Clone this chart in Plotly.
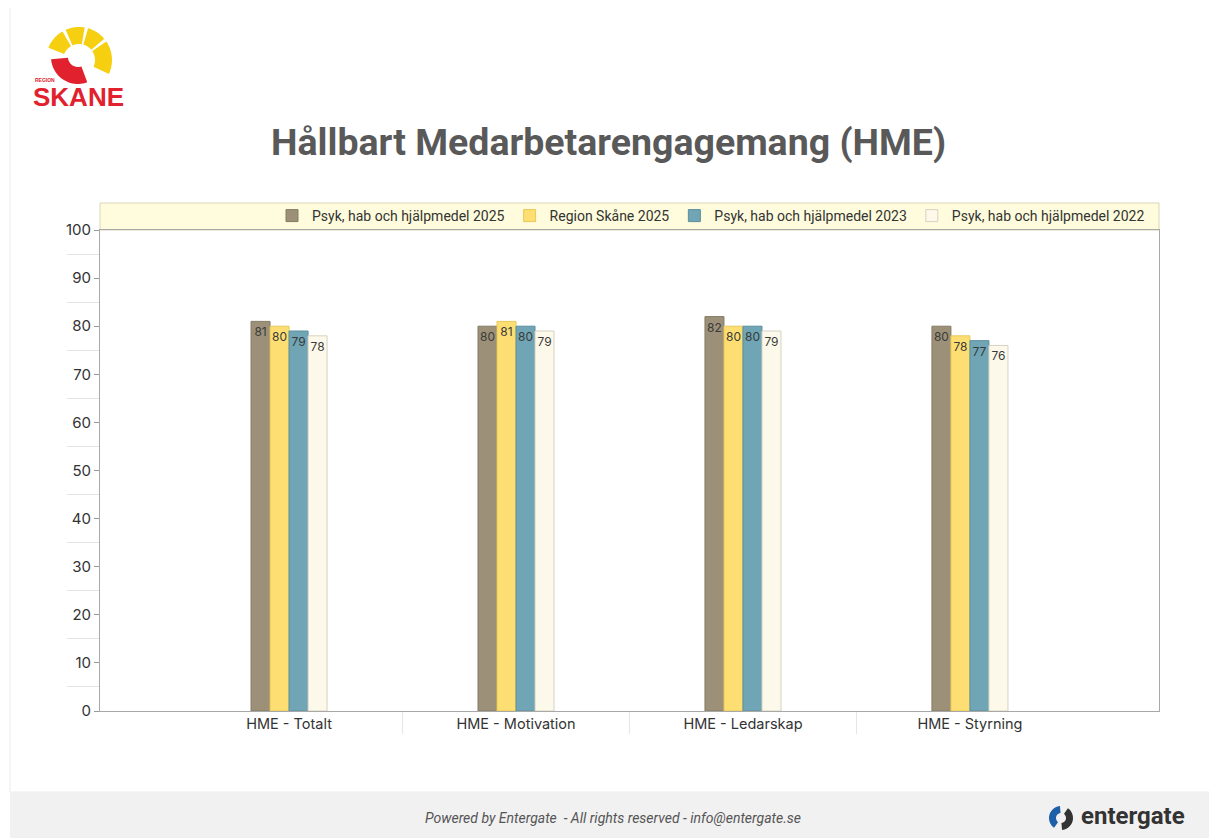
import numpy as np
import plotly.graph_objects as go

# ─── Data ─────────────────────────────────────────────────────────────────────
CATEGORIES = ['HME - Totalt', 'HME - Motivation', 'HME - Ledarskap', 'HME - Styrning']
SERIES_NAMES = [
    'Psyk, hab och hjälpmedel 2025',
    'Region Skåne 2025',
    'Psyk, hab och hjälpmedel 2023',
    'Psyk, hab och hjälpmedel 2022',
]
PSYK_2025 = [81, 80, 82, 80]
REGION_2025 = [80, 81, 80, 78]
PSYK_2023 = [79, 80, 80, 77]
PSYK_2022 = [78, 79, 79, 76]
Y_TICKS = [0, 10, 20, 30, 40, 50, 60, 70, 80, 90, 100]

# ─── Style ────────────────────────────────────────────────────────────────────
# the page body has an 8px margin, so the figure is drawn 8px smaller and
# all screen positions below are shifted by that offset
OFF = 8
W, H = 1217 - OFF, 838 - OFF
M_L, M_R, M_T, M_B = 100 - OFF, 58, 230 - OFF, 127
FILLS = ['#9C9178', '#FCDE72', '#6FA5B5', '#FDF9EA']
LINES = ['#857B64', '#E8C85A', '#5C8F9E', '#D6D2C2']
FONT = 'Inter, Roboto, sans-serif'


def px_to_paper(x, y):
    pw = W - M_L - M_R
    ph = H - M_T - M_B
    return (x - OFF - M_L) / pw, (H - M_B - (y - OFF)) / ph


def poly_path(points):
    pts = [px_to_paper(x, y) for x, y in points]
    return 'M ' + ' L '.join(f'{a:.5f},{b:.5f}' for a, b in pts) + ' Z'


def sector(cx, cy, r0, r1, a0, a1, n=24):
    ang = np.radians(np.linspace(a0, a1, n))
    outer = [(cx + r1 * np.cos(a), cy - r1 * np.sin(a)) for a in ang]
    inner = [(cx + r0 * np.cos(a), cy - r0 * np.sin(a)) for a in ang[::-1]]
    return poly_path(outer + inner)


fig = go.Figure()
for name, vals, fill, line in zip(SERIES_NAMES, [PSYK_2025, REGION_2025, PSYK_2023, PSYK_2022],
                                  FILLS, LINES):
    fig.add_trace(go.Bar(
        x=list(range(len(CATEGORIES))), y=vals, name=name,
        marker=dict(color=fill, line=dict(color=line, width=1)),
        text=[str(v) for v in vals],
        textposition='inside', insidetextanchor='end', constraintext='none', textangle=0,
        textfont=dict(family=FONT, size=12, color='#3a3a3a'),
        hovertemplate='%{y}<extra>' + name + '</extra>',
    ))

shapes = []
# card + footer
shapes.append(dict(type='rect', xref='paper', yref='paper', layer='below',
                   x0=px_to_paper(10, 0)[0], x1=px_to_paper(1230, 0)[0],
                   y0=px_to_paper(0, 792)[1], y1=px_to_paper(0, 5)[1],
                   line=dict(color='#EDEDED', width=1), fillcolor='white'))
shapes.append(dict(type='rect', xref='paper', yref='paper', layer='below',
                   x0=px_to_paper(10, 0)[0], x1=px_to_paper(1230, 0)[0],
                   y0=px_to_paper(0, 845)[1], y1=px_to_paper(0, 792)[1],
                   line=dict(width=0), fillcolor='#F1F1F1'))
# legend strip above plot
shapes.append(dict(type='rect', xref='paper', yref='paper', layer='below',
                   x0=0, x1=1, y0=1, y1=px_to_paper(0, 203)[1],
                   line=dict(color='#D9D6B8', width=1), fillcolor='#FEFCDC'))

# Region Skåne logo (approximate)
cx, cy = 79, 60
for a0, a1 in [(120, 158), (80, 114), (40, 74), (-25, 34)]:
    shapes.append(dict(type='path', xref='paper', yref='paper',
                       path=sector(cx, cy, 16, 33, a0, a1),
                       fillcolor='#F5CF10', line=dict(width=0)))
shapes.append(dict(type='path', xref='paper', yref='paper',
                   path=sector(cx - 1, cy - 3, 10, 27, 185, 290),
                   fillcolor='#E2212E', line=dict(width=0)))
shapes.append(dict(type='circle', xref='paper', yref='paper',
                   x0=px_to_paper(73, 0)[0], x1=px_to_paper(80, 0)[0],
                   y0=px_to_paper(0, 81)[1], y1=px_to_paper(0, 74)[1],
                   fillcolor='#E2212E', line=dict(width=0)))

# entergate icon (approximate)
shapes.append(dict(type='path', xref='paper', yref='paper',
                   path=sector(1061, 818, 5, 12, 95, 235),
                   fillcolor='#1F5FA8', line=dict(width=0)))
shapes.append(dict(type='path', xref='paper', yref='paper',
                   path=sector(1061, 818, 5, 12, -85, 55),
                   fillcolor='#333333', line=dict(width=0)))

annotations = [
    dict(text='<b>Hållbart Medarbetarengagemang (HME)</b>', x=px_to_paper(608, 0)[0],
         y=px_to_paper(0, 142)[1], xref='paper', yref='paper', showarrow=False,
         font=dict(family='Roboto, sans-serif', size=37.5, color='#595959'),
         xanchor='center', yanchor='middle'),
    dict(text='<b>SKANE</b>', x=px_to_paper(78, 0)[0], y=px_to_paper(0, 97)[1],
         xref='paper', yref='paper', showarrow=False,
         font=dict(family='Liberation Sans, Arial', size=26, color='#E2212E'),
         xanchor='center', yanchor='middle'),
    dict(text='<b>REGION</b>', x=px_to_paper(33, 0)[0], y=px_to_paper(0, 80)[1],
         xref='paper', yref='paper', showarrow=False,
         font=dict(family='Liberation Sans, Arial', size=5, color='#E2212E'),
         xanchor='left', yanchor='middle'),
    dict(text='<i>Powered by Entergate  - All rights reserved - info@entergate.se</i>',
         x=px_to_paper(613, 0)[0], y=px_to_paper(0, 818)[1], xref='paper', yref='paper',
         showarrow=False, font=dict(family='Roboto, sans-serif', size=14, color='#555555'),
         xanchor='center', yanchor='middle'),
    dict(text='<b>entergate</b>', x=px_to_paper(1079, 0)[0], y=px_to_paper(0, 816)[1],
         xref='paper', yref='paper', showarrow=False,
         font=dict(family='Roboto, sans-serif', size=24, color='#333333'),
         xanchor='left', yanchor='middle'),
]

fig.update_layout(
    width=W, height=H,
    margin=dict(l=M_L, r=M_R, t=M_T, b=M_B),
    paper_bgcolor='white', plot_bgcolor='white',
    barmode='group', bargap=0.665, bargroupgap=0,
    font=dict(family=FONT, color='#333333'),
    showlegend=True,
    legend=dict(orientation='h', xanchor='right', x=px_to_paper(1150, 0)[0],
                yanchor='middle', y=px_to_paper(0, 216)[1],
                bgcolor='rgba(0,0,0,0)', traceorder='normal',
                font=dict(family='Roboto, sans-serif', size=14, color='#333333'),
                itemwidth=30),
    shapes=shapes,
    annotations=annotations,
    xaxis=dict(
        range=[-0.833, 3.833], tickvals=list(range(len(CATEGORIES))), ticktext=CATEGORIES,
        showgrid=False, zeroline=False, showline=True, linecolor='#A8A8A8', mirror=True,
        ticks='', tickfont=dict(family=FONT, size=14.5, color='#333333'),
        minor=dict(tickvals=[0.5, 1.5, 2.5], ticks='outside', ticklen=22,
                   tickcolor='#E6E6E6', tickwidth=1),
        fixedrange=True,
    ),
    yaxis=dict(
        range=[0, 100], tickvals=Y_TICKS, showgrid=False, zeroline=False,
        showline=True, linecolor='#A8A8A8', mirror=True,
        ticks='outside', ticklen=5, tickcolor='#999999',
        tickfont=dict(family=FONT, size=15, color='#333333'),
        minor=dict(tick0=5, dtick=10, ticks='outside', ticklen=32,
                   tickcolor='#E4E4E4', tickwidth=1),
        fixedrange=True,
    ),
)

fig.write_html('out.html')
